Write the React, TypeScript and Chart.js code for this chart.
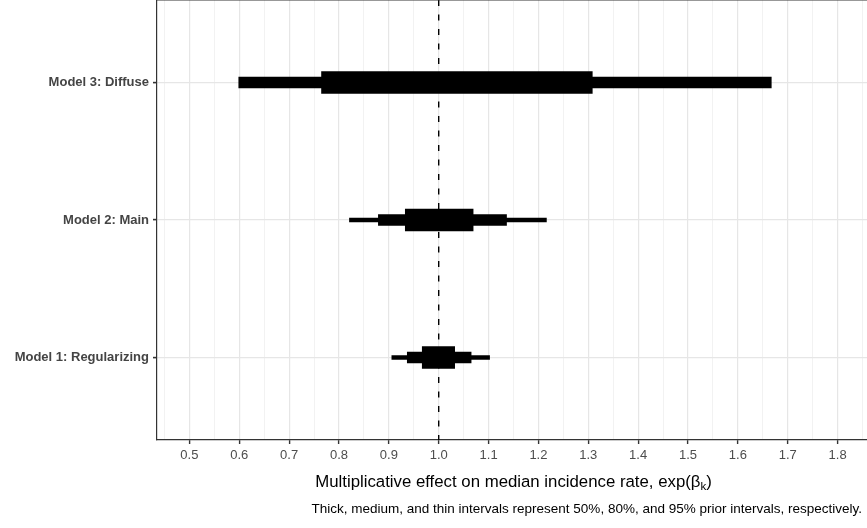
import React, { useEffect, useRef } from "react";
import { Chart, registerables } from "chart.js";

Chart.register(...registerables);

// ---------- data ----------
const models = ["Model 1: Regularizing", "Model 2: Main", "Model 3: Diffuse"];
const modelPositions = [1, 2, 3];

// 95% (thin) intervals — Model 3's lies outside the plotted range, so none is drawn
const thinLow = [0.906, 0.821, null];
const thinHigh = [1.102, 1.216, null];
// 80% (medium) intervals
const mediumLow = [0.937, 0.879, 0.599];
const mediumHigh = [1.065, 1.136, 1.667];
// 50% (thick) intervals
const thickLow = [0.967, 0.933, 0.765];
const thickHigh = [1.032, 1.069, 1.308];

const referenceValue = 1.0;

const xMajorTicks = [0.5, 0.6, 0.7, 0.8, 0.9, 1.0, 1.1, 1.2, 1.3, 1.4, 1.5, 1.6, 1.7, 1.8];
const xMinorTicks = [0.45, 0.55, 0.65, 0.75, 0.85, 0.95, 1.05, 1.15, 1.25, 1.35, 1.45, 1.55, 1.65, 1.75, 1.85];
const xMin = 0.435;
const xMax = 1.865;
const yMin = 0.4;
const yMax = 3.6;

const xTitleMain = "Multiplicative effect on median incidence rate, exp(β";
const xTitleSub = "k";
const xTitleEnd = ")";
const caption =
  "Thick, medium, and thin intervals represent 50%, 80%, and 95% prior intervals, respectively.";

// ---------- styles ----------
const FONT = "'Liberation Sans', Arial, Helvetica, sans-serif";
const W = 871;
const H = 528;

const isMajor = (v: number) => xMajorTicks.some((m) => Math.abs(m - v) < 1e-6);

function intervalData(lo: (number | null)[], hi: (number | null)[]) {
  const out: { x: [number, number]; y: number }[] = [];
  modelPositions.forEach((p, i) => {
    const a = lo[i];
    const b = hi[i];
    if (a != null && b != null) out.push({ x: [a, b], y: p });
  });
  return out;
}

const decorPlugin = {
  id: "decor",
  afterDatasetsDraw(chart: any) {
    const { ctx, chartArea } = chart;
    const { left, right, top, bottom } = chartArea;
    ctx.save();
    ctx.strokeStyle = "#333333";
    ctx.lineWidth = 1;
    ctx.beginPath();
    ctx.moveTo(left, top);
    ctx.lineTo(right, top);
    ctx.moveTo(Math.round(right) - 0.5, top);
    ctx.lineTo(Math.round(right) - 0.5, bottom);
    ctx.stroke();
    ctx.restore();
  },
  afterDraw(chart: any) {
    const { ctx, chartArea } = chart;
    const { left, right, bottom } = chartArea;
    ctx.save();
    ctx.fillStyle = "#000000";
    ctx.textBaseline = "alphabetic";
    ctx.textAlign = "left";
    const mainFont = `16.8px ${FONT}`;
    const subFont = `11.5px ${FONT}`;
    ctx.font = mainFont;
    const w1 = ctx.measureText(xTitleMain).width;
    const w3 = ctx.measureText(xTitleEnd).width;
    ctx.font = subFont;
    const w2 = ctx.measureText(xTitleSub).width;
    const total = w1 + w2 + w3;
    const cx = (left + right) / 2;
    const baseY = bottom + 47;
    const x0 = cx - total / 2;
    ctx.font = mainFont;
    ctx.fillText(xTitleMain, x0, baseY);
    ctx.font = subFont;
    ctx.fillText(xTitleSub, x0 + w1, baseY + 3);
    ctx.font = mainFont;
    ctx.fillText(xTitleEnd, x0 + w1 + w2, baseY);
    ctx.font = `13.5px ${FONT}`;
    ctx.textAlign = "right";
    ctx.fillText(caption, 862, bottom + 73);
    ctx.restore();
  },
};

export default function App() {
  const ref = useRef<HTMLCanvasElement | null>(null);

  useEffect(() => {
    document.body.style.margin = "0";
    document.body.style.overflow = "hidden";
    document.documentElement.style.overflow = "hidden";
    const canvas = ref.current;
    if (!canvas) return;

    const barCommon = {
      type: "bar" as const,
      indexAxis: "y" as const,
      backgroundColor: "#000000",
      borderWidth: 0,
      borderSkipped: false,
      grouped: false,
    };

    const chart = new Chart(canvas, {
      type: "bar",
      data: {
        datasets: [
          { ...barCommon, label: "95%", data: intervalData(thinLow, thinHigh) as any, barThickness: 4, order: 3 },
          { ...barCommon, label: "80%", data: intervalData(mediumLow, mediumHigh) as any, barThickness: 11, order: 2 },
          { ...barCommon, label: "50%", data: intervalData(thickLow, thickHigh) as any, barThickness: 22, order: 1 },
          {
            type: "line",
            label: "ref",
            indexAxis: "y",
            data: [
              { x: referenceValue, y: yMax },
              { x: referenceValue, y: yMin },
            ] as any,
            borderColor: "#000000",
            borderWidth: 1.4,
            borderDash: [6, 8.5],
            pointRadius: 0,
            fill: false,
            order: 0,
          } as any,
        ],
      },
      options: {
        indexAxis: "y",
        responsive: false,
        animation: false,
        devicePixelRatio: 1,
        layout: { padding: { left: 0, right: 1, top: 0, bottom: 0 } },
        plugins: {
          legend: { display: false },
          tooltip: { enabled: false },
          title: { display: false },
        },
        scales: {
          x: {
            type: "linear",
            position: "bottom",
            offset: false,
            min: xMin,
            max: xMax,
            afterBuildTicks(scale: any) {
              scale.ticks = [...xMinorTicks, ...xMajorTicks]
                .sort((a, b) => a - b)
                .map((v) => ({ value: v }));
            },
            afterFit(scale: any) {
              scale.height = 88;
              scale.paddingLeft = 0;
              scale.paddingRight = 0;
            },
            ticks: {
              autoSkip: false,
              maxRotation: 0,
              minRotation: 0,
              padding: 4,
              color: "#4d4d4d",
              font: { family: FONT, size: 13 },
              callback: (v: any) => (isMajor(Number(v)) ? Number(v).toFixed(1) : ""),
            },
            grid: {
              offset: false,
              drawTicks: true,
              tickLength: 4,
              color: (c: any) => (c.tick && isMajor(c.tick.value) ? "#e6e6e6" : "#efefef"),
              lineWidth: (c: any) => (c.tick && isMajor(c.tick.value) ? 1.2 : 0.8),
              tickColor: (c: any) => (c.tick && isMajor(c.tick.value) ? "#333333" : "rgba(0,0,0,0)"),
              tickWidth: 1.4,
            },
            border: { display: true, color: "#333333", width: 1.2 },
          } as any,
          y: {
            type: "linear",
            position: "left",
            offset: false,
            min: yMin,
            max: yMax,
            afterBuildTicks(scale: any) {
              scale.ticks = modelPositions.map((v) => ({ value: v }));
            },
            afterFit(scale: any) {
              scale.width = 157;
              scale.paddingTop = 0;
              scale.paddingBottom = 0;
            },
            ticks: {
              padding: 4,
              color: "#444444",
              font: { family: FONT, size: 13, weight: "bold" },
              callback: (v: any) => {
                const i = modelPositions.indexOf(Number(v));
                return i >= 0 ? models[i] : "";
              },
            },
            grid: {
              offset: false,
              drawTicks: true,
              tickLength: 4,
              color: "#e6e6e6",
              lineWidth: 1.2,
              tickColor: "#333333",
              tickWidth: 1.6,
            },
            border: { display: true, color: "#333333", width: 1.2 },
          } as any,
        },
      },
      plugins: [decorPlugin],
    } as any);

    return () => chart.destroy();
  }, []);

  return (
    <div style={{ position: "absolute", left: 0, top: 0, width: W, height: H, background: "#ffffff" }}>
      <canvas ref={ref} width={W} height={H} style={{ display: "block", width: W, height: H }} />
    </div>
  );
}
